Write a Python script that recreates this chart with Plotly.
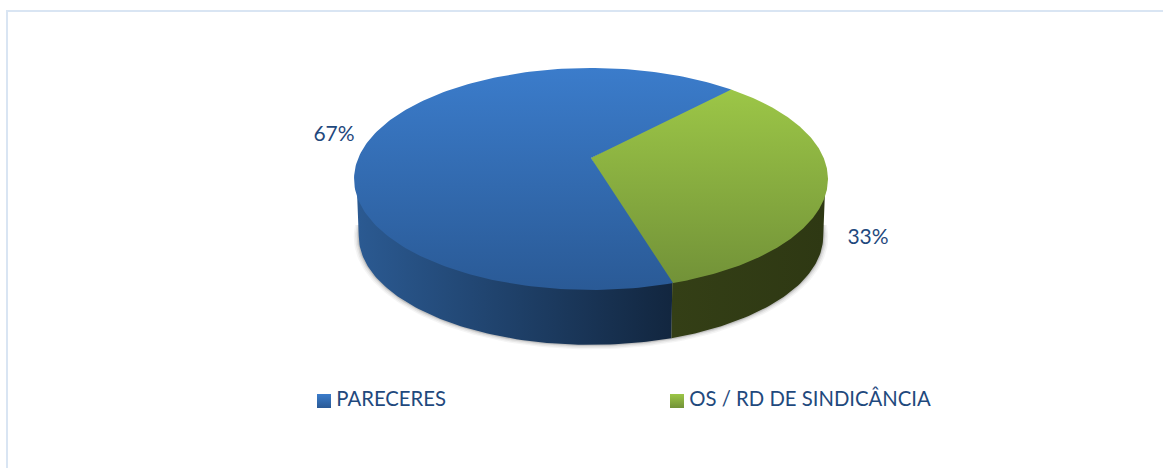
import numpy as np
import plotly.graph_objects as go

categories = ["PARECERES", "OS / RD DE SINDICÂNCIA"]
values = [66.7, 33.3]
top_colors = [("#3B7CCB", "#2A5A96"), ("#9CC647", "#729238")]
wall_colors = [("#2B5A92", "#12263F"), ("#343F16", "#2E3813")]
swatch_colors = [("#3B7CCB", "#2A5A96"), ("#9CC647", "#729238")]
text_color = "#1F497D"
frame_color = "#D9E5F3"

# perspective model of a tilted disc, in axis units
CX, CY, CY_BASE = 591.0, 158.0, 215.6
A, B, K, BASE_SCALE = 232.7, 107.0, 0.189, 0.98
START_DEG = 163.2  # clockwise from north


def rim(clock_deg, base=False):
    t = np.radians(clock_deg)
    u, v = np.sin(t), -np.cos(t)
    d = 1 - K * v
    x, y = A * u / d, B * v / d
    if base:
        return CX + BASE_SCALE * x, CY_BASE + BASE_SCALE * y
    return CX + x, CY + y


total = sum(values)
bounds = [START_DEG]
for val in values:
    bounds.append(bounds[-1] + 360 * val / total)

# clock angles of the left / right silhouette points of the disc
side = np.degrees(np.arcsin(K))
right_ext = 90 + side
left_ext = 270 - side

fig = go.Figure()

# soft shadow beneath the wall
arc = np.linspace(right_ext - 6, left_ext + 6, 120)
bx, by = rim(arc, base=True)
for grow, alpha in [(5, 0.05), (3.5, 0.07), (2, 0.10), (1, 0.14)]:
    sx = CX + (bx - CX) * (1 + grow / 232)
    sy = by + grow * 0.9 * np.clip((by - CY_BASE) / 129, 0, 1)
    fig.add_trace(go.Scatter(x=sx, y=sy, mode="lines", fill="toself",
                             fillcolor=f"rgba(60,60,60,{alpha})",
                             line=dict(width=0), hoverinfo="skip", showlegend=False))

# visible walls; their upper edge is tucked under the top face to avoid a seam
seam = bounds[0]
wall_arcs = [np.linspace(seam, left_ext, 90), np.linspace(right_ext, seam, 60)]
for arc, cols in zip(wall_arcs, wall_colors):
    tx, ty = rim(arc)
    bx, by = rim(arc, base=True)
    tx = CX + (tx - CX) * 0.99
    ty = ty - 2.5
    px = np.concatenate([tx, bx[::-1]])
    py = np.concatenate([ty, by[::-1]])
    fig.add_trace(go.Scatter(
        x=px, y=py, mode="lines", fill="toself", line=dict(width=0),
        fillgradient=dict(type="horizontal",
                          colorscale=[[0, cols[0]], [1, cols[1]]]),
        hoverinfo="skip", showlegend=False))

# underlay inside the top face so the joins between slices show no white hairline
ux, uy = rim(np.linspace(bounds[1] - 3, bounds[2] + 3, 100))
fig.add_trace(go.Scatter(
    x=np.concatenate([[CX], CX + (ux - CX) * 0.99]),
    y=np.concatenate([[CY], CY + (uy - CY) * 0.99]),
    mode="lines", fill="toself", line=dict(width=0),
    fillgradient=dict(type="vertical",
                      colorscale=[[0, top_colors[0][1]], [1, top_colors[0][0]]]),
    hoverinfo="skip", showlegend=False))

# top faces
for i, (name, cols) in enumerate(zip(categories, top_colors)):
    arc = np.linspace(bounds[i], bounds[i + 1], 200)
    rx, ry = rim(arc)
    fig.add_trace(go.Scatter(
        x=np.concatenate([[CX], rx, [CX]]), y=np.concatenate([[CY], ry, [CY]]),
        mode="lines", fill="toself", line=dict(width=0),
        fillgradient=dict(type="vertical",
                          colorscale=[[0, cols[1]], [1, cols[0]]]),
        name=name, hoverinfo="name", showlegend=False))

# percentage labels
label_pos = [(334, 136), (868, 239)]
fig.add_trace(go.Scatter(
    x=[p[0] for p in label_pos], y=[p[1] for p in label_pos], mode="text",
    text=[f"{round(100 * val / total)}%" for val in values],
    textfont=dict(family="Lato", size=21, color=text_color),
    hoverinfo="skip", showlegend=False))

# legend
swatches = [(324, 400), (677, 400)]
for (sx, sy), name, cols in zip(swatches, categories, swatch_colors):
    fig.add_trace(go.Scatter(
        x=[sx], y=[sy + 1], mode="markers+text",
        marker=dict(symbol="square", size=14, color=cols[0], line=dict(width=0),
                    gradient=dict(type="vertical", color=cols[1])),
        text=["\u2009" + name], textposition="middle right",
        textfont=dict(family="Lato", size=20.3, color=text_color),
        hoverinfo="skip", showlegend=False))

fig.update_layout(
    width=1163, height=468, margin=dict(l=0, r=0, t=0, b=0),
    paper_bgcolor="white", plot_bgcolor="white",
    xaxis=dict(range=[0, 1163], visible=False, fixedrange=True),
    yaxis=dict(range=[468, 0], visible=False, fixedrange=True),
    shapes=[dict(type="rect", xref="x", yref="y", x0=7, y0=11, x1=1200, y1=500,
                 line=dict(color=frame_color, width=2), fillcolor="rgba(0,0,0,0)",
                 layer="below")],
)
fig.write_html("out.html", config=dict(displayModeBar=False),
               post_script="document.body.style.margin='0';document.documentElement.style.overflow='hidden';")
